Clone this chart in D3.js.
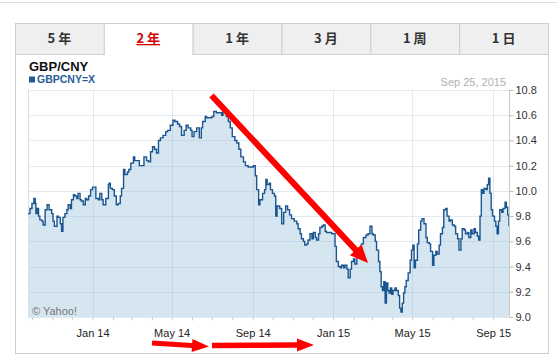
<!DOCTYPE html>
<html><head><meta charset="utf-8">
<script src="https://cdn.jsdelivr.net/npm/d3@7"></script>
<style>html,body{margin:0;padding:0;background:#fff;overflow:hidden}</style>
</head><body><svg id="c" width="557" height="356"></svg>
<script>
// ---------- data ----------
const tabLabels = ["5 年", "2 年", "1 年", "3 月", "1 周", "1 日"];
const selectedTab = "2 年";
const chartTitle = "GBP/CNY";
const seriesName = "GBPCNY=X";
const asOfLabel = "Sep 25, 2015";
const creditLabel = "© Yahoo!";
const startDate = "2013-09-25";
const endDate = "2015-09-25";
// days since startDate
const dayOffsets = [0,3,6,9,11,12,14,16,18,21,23,26,29,32,36,38,40,44,46,49,51,53,56,59,61,64,66,69,71,74,76,79,81,84,87,89,92,95,98,101,103,107,109,112,114,118,122,123,125,128,131,134,137,140,142,145,147,151,153,156,160,162,166,169,173,176,180,183,186,189,192,195,198,201,205,209,212,216,220,223,227,230,233,237,240,243,247,249,252,256,260,263,265,269,271,275,279,282,286,290,294,296,301,304,307,310,314,317,320,323,327,330,334,338,342,345,347,350,352,356,359,361,363,366,368,371,374,376,378,380,382,385,388,391,394,397,400,404,408,410,413,415,418,420,423,425,428,431,433,436,438,441,443,446,448,451,453,457,461,464,466,468,471,474,476,479,481,484,486,489,491,494,496,499,501,504,506,509,513,516,519,522,524,527,529,532,534,536,538,540,542,544,546,548,550,552,554,557,559,562,564,566,568,570,572,574,577,580,582,584,586,588,591,593,596,598,601,604,606,609,611,614,616,619,621,624,626,629,631,634,636,639,641,644,647,649,652,654,657,659,662,664,667,669,672,674,677,679,682,684,686,688,690,692,695,697,699,701,703,705,708,710,712,714,716,719,721,724,726,728,730];
const rates = [9.82,9.86,9.90,9.94,9.90,9.82,9.86,9.80,9.77,9.76,9.73,9.85,9.89,9.85,9.82,9.76,9.72,9.80,9.79,9.74,9.68,9.79,9.82,9.85,9.89,9.86,9.93,9.97,9.96,9.94,9.98,9.93,9.92,9.89,9.94,9.93,9.96,10.01,10.03,10.03,9.94,9.93,9.98,9.93,9.89,9.94,10.05,10.06,10.02,10.01,9.96,9.89,9.90,9.96,10.02,10.17,10.13,10.15,10.17,10.22,10.27,10.24,10.24,10.20,10.20,10.27,10.24,10.23,10.31,10.35,10.33,10.30,10.40,10.42,10.44,10.47,10.48,10.52,10.56,10.55,10.53,10.51,10.44,10.48,10.52,10.50,10.48,10.43,10.47,10.50,10.42,10.50,10.55,10.59,10.58,10.58,10.59,10.63,10.62,10.62,10.60,10.63,10.59,10.55,10.50,10.43,10.40,10.38,10.33,10.27,10.23,10.20,10.19,10.19,10.20,10.12,10.01,9.89,9.93,9.98,10.01,10.09,10.05,10.06,10.01,9.98,9.96,9.80,9.88,9.88,9.86,9.74,9.83,9.88,9.85,9.81,9.78,9.76,9.74,9.70,9.66,9.62,9.60,9.57,9.58,9.61,9.66,9.62,9.67,9.63,9.61,9.66,9.71,9.72,9.73,9.68,9.67,9.67,9.66,9.66,9.56,9.44,9.40,9.39,9.41,9.39,9.41,9.38,9.31,9.38,9.44,9.46,9.42,9.48,9.52,9.54,9.58,9.63,9.65,9.66,9.72,9.66,9.65,9.60,9.53,9.44,9.36,9.24,9.21,9.28,9.11,9.27,9.21,9.19,9.23,9.18,9.21,9.23,9.21,9.17,9.07,9.04,9.11,9.19,9.24,9.29,9.35,9.45,9.53,9.57,9.39,9.45,9.58,9.69,9.76,9.78,9.74,9.63,9.59,9.58,9.52,9.41,9.49,9.52,9.50,9.57,9.66,9.71,9.85,9.86,9.80,9.76,9.77,9.73,9.72,9.66,9.62,9.53,9.62,9.70,9.69,9.66,9.67,9.63,9.69,9.66,9.70,9.67,9.64,9.61,9.80,10.01,9.98,10.02,10.01,10.05,10.10,9.98,9.85,9.80,9.76,9.72,9.66,9.76,9.85,9.83,9.86,9.91,9.87,9.81,9.72];
const yTicks = [9.0, 9.2, 9.4, 9.6, 9.8, 10.0, 10.2, 10.4, 10.6, 10.8];
const labelMonths = [0, 4, 8]; // Jan, May, Sep

// ---------- layout / style ----------
const W = 557, H = 356;
const panel = {x: 15, y: 54, r: 548, b: 353};
const tabRow = {y: 23, h: 31};
const plot = {l: 28, r: 509, t: 90, b: 317};
const FONT = "Arial, 'Liberation Sans', sans-serif";
const CJK = "'Noto Sans CJK JP', 'Noto Sans CJK SC', sans-serif";

const svg = d3.select("#c");
const parse = d3.utcParse("%Y-%m-%d");
const t0 = parse(startDate), t1 = parse(endDate);
const data = dayOffsets.map((d, i) => ({date: d3.utcDay.offset(t0, d), v: rates[i]}));

const x = d3.scaleUtc().domain([t0, t1]).range([plot.l, plot.r]);
const y = d3.scaleLinear().domain([9.0, 10.8]).range([plot.b, plot.t]);

// top separator line
svg.append("line").attr("x1", 0).attr("x2", W).attr("y1", 2.5).attr("y2", 2.5)
  .attr("stroke", "#dcdcdc").attr("stroke-width", 1);

// panel
svg.append("rect").attr("x", panel.x + 0.5).attr("y", panel.y + 0.5)
  .attr("width", panel.r - panel.x).attr("height", panel.b - panel.y)
  .attr("fill", "#fff").attr("stroke", "#cfcfcf");

// tabs
const tabW = (panel.r - panel.x) / tabLabels.length;
const tabs = svg.append("g").selectAll("g").data(tabLabels).join("g")
  .attr("transform", (d, i) => `translate(${panel.x + i * tabW},${tabRow.y})`);
tabs.append("rect").attr("x", 0.5).attr("y", 0.5).attr("width", tabW).attr("height", tabRow.h)
  .attr("fill", d => d === selectedTab ? "#fff" : "#efefef").attr("stroke", "#cfcfcf");
tabs.filter(d => d === selectedTab).append("line")
  .attr("x1", 1.5).attr("x2", tabW - 0.5).attr("y1", tabRow.h + 0.5).attr("y2", tabRow.h + 0.5)
  .attr("stroke", "#fff").attr("stroke-width", 1.5);
tabs.append("text").attr("x", tabW / 2).attr("y", 20).attr("text-anchor", "middle")
  .attr("font-family", CJK).attr("font-weight", "bold").attr("font-size", 13)
  .attr("fill", d => d === selectedTab ? "#d40000" : "#333")
  .attr("text-decoration", d => d === selectedTab ? "underline" : null)
  .text(d => d);

// title & legend
svg.append("text").attr("x", 29).attr("y", 71).attr("font-family", FONT)
  .attr("font-weight", "bold").attr("font-size", 13).attr("fill", "#111").text(chartTitle);
svg.append("rect").attr("x", 29).attr("y", 76.5).attr("width", 6).attr("height", 6).attr("fill", "#235a93");
svg.append("text").attr("x", 37).attr("y", 83).attr("font-family", FONT)
  .attr("font-weight", "bold").attr("font-size", 10.5).attr("fill", "#2a5c98").text(seriesName);
svg.append("text").attr("x", 506).attr("y", 86).attr("text-anchor", "end").attr("font-family", FONT)
  .attr("font-size", 11).attr("fill", "#b0b0b0").text(asOfLabel);

// area + line
const area = d3.area().curve(d3.curveStepAfter).x(d => x(d.date)).y0(y(9.0)).y1(d => y(d.v));
const line = d3.line().curve(d3.curveStepAfter).x(d => x(d.date)).y(d => y(d.v));
svg.append("path").datum(data).attr("d", area).attr("fill", "#d6e6f1");

// grid
const monthTicks = x.ticks(d3.utcMonth.every(1));
const majorTicks = monthTicks.filter(d => labelMonths.includes(d.getUTCMonth()));
const grid = svg.append("g").attr("stroke", "rgb(150,180,210)").attr("stroke-opacity", 0.28);
grid.selectAll("line.h").data(yTicks).join("line").attr("class", "h")
  .attr("x1", plot.l).attr("x2", plot.r).attr("y1", d => Math.round(y(d)) + 0.5).attr("y2", d => Math.round(y(d)) + 0.5);
grid.selectAll("line.v").data(majorTicks).join("line").attr("class", "v")
  .attr("y1", plot.t).attr("y2", plot.b).attr("x1", d => Math.round(x(d)) + 0.5).attr("x2", d => Math.round(x(d)) + 0.5);
// plot border left
svg.append("line").attr("x1", plot.l + 0.5).attr("x2", plot.l + 0.5).attr("y1", plot.t).attr("y2", plot.b)
  .attr("stroke", "#dedede");

svg.append("path").datum(data).attr("d", line).attr("fill", "none")
  .attr("stroke", "#1b5590").attr("stroke-width", 1.4).attr("stroke-linejoin", "miter");

// right axis
const yAxis = svg.append("g").attr("transform", `translate(${plot.r + 0.5},0)`)
  .call(d3.axisRight(y).tickValues(yTicks).tickFormat(d3.format(".1f")).tickSize(4).tickPadding(2));
yAxis.select(".domain").attr("stroke", "#c8c8c8").attr("d", `M0,${plot.t}V${plot.b}`);
yAxis.selectAll(".tick line").attr("stroke", "#bbb");
yAxis.selectAll(".tick text").attr("font-family", FONT).attr("font-size", 11).attr("fill", "#333");

// bottom axis
const xAxis = svg.append("g").attr("transform", `translate(0,${plot.b + 0.5})`)
  .call(d3.axisBottom(x).tickValues(monthTicks).tickSize(3).tickPadding(9)
    .tickFormat(d => labelMonths.includes(d.getUTCMonth()) ? d3.utcFormat("%b %y")(d) : ""));
xAxis.select(".domain").remove();
xAxis.selectAll(".tick line").attr("stroke", "#ccc");
xAxis.selectAll(".tick text").attr("font-family", FONT).attr("font-size", 11).attr("fill", "#222");

// credit
svg.append("text").attr("x", 32).attr("y", 315).attr("font-family", FONT)
  .attr("font-size", 11).attr("fill", "#777").text(creditLabel);

// ---------- red annotation arrows (overlay) ----------
const arrows = [
  {x1: 211.5, y1: 95.5, x2: 368, y2: 263, w: 6, hw: 16, hl: 18},
  {x1: 152, y1: 343, x2: 209, y2: 346.5, w: 5, hw: 13, hl: 17},
  {x1: 212, y1: 345.5, x2: 314, y2: 345, w: 5.5, hw: 13, hl: 17}
];
function arrowPath(a) {
  const dx = a.x2 - a.x1, dy = a.y2 - a.y1, L = Math.hypot(dx, dy);
  const ux = dx / L, uy = dy / L, px = -uy, py = ux;
  const bx = a.x2 - ux * a.hl, by = a.y2 - uy * a.hl;
  const p = [
    [a.x1 + px * a.w / 2, a.y1 + py * a.w / 2],
    [bx + px * a.w / 2, by + py * a.w / 2],
    [bx + px * a.hw / 2, by + py * a.hw / 2],
    [a.x2, a.y2],
    [bx - px * a.hw / 2, by - py * a.hw / 2],
    [bx - px * a.w / 2, by - py * a.w / 2],
    [a.x1 - px * a.w / 2, a.y1 - py * a.w / 2]
  ];
  return "M" + p.map(q => q.join(",")).join("L") + "Z";
}
svg.append("g").selectAll("path").data(arrows).join("path")
  .attr("d", arrowPath).attr("fill", "#ff0000");
</script></body></html>
